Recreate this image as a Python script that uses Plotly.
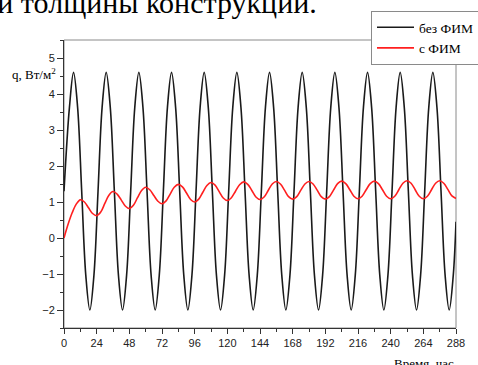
import plotly.graph_objects as go

# ---- data ----
black_name = "без ФИМ"
red_name = "с ФИМ"

black_t = [0] + list(range(4, 287, 3)) + [288]
black_q = [
    1.3,
    3.63, 4.6, 3.63, 1.3, -1.03, -2.0, -1.03, 1.3,
    3.63, 4.6, 3.63, 1.3, -1.03, -2.0, -1.03, 1.3,
    3.63, 4.6, 3.63, 1.3, -1.03, -2.0, -1.03, 1.3,
    3.63, 4.6, 3.63, 1.3, -1.03, -2.0, -1.03, 1.3,
    3.63, 4.6, 3.63, 1.3, -1.03, -2.0, -1.03, 1.3,
    3.63, 4.6, 3.63, 1.3, -1.03, -2.0, -1.03, 1.3,
    3.63, 4.6, 3.63, 1.3, -1.03, -2.0, -1.03, 1.3,
    3.63, 4.6, 3.63, 1.3, -1.03, -2.0, -1.03, 1.3,
    3.63, 4.6, 3.63, 1.3, -1.03, -2.0, -1.03, 1.3,
    3.63, 4.6, 3.63, 1.3, -1.03, -2.0, -1.03, 1.3,
    3.63, 4.6, 3.63, 1.3, -1.03, -2.0, -1.03, 1.3,
    3.63, 4.6, 3.63, 1.3, -1.03, -2.0, -1.03,
    0.45,
]

red_t = list(range(0, 289, 3))
red_q = [
    0.00, 0.38, 0.70, 0.94, 1.06, 1.00, 0.84, 0.68,
    0.62, 0.72, 0.96, 1.19, 1.29, 1.22, 1.06, 0.89,
    0.82, 0.91, 1.12, 1.32, 1.41, 1.34, 1.18, 1.02,
    0.95, 1.03, 1.22, 1.41, 1.49, 1.42, 1.25, 1.07,
    1.00, 1.08, 1.27, 1.46, 1.54, 1.47, 1.29, 1.11,
    1.04, 1.12, 1.30, 1.48, 1.56, 1.49, 1.32, 1.14,
    1.07, 1.14, 1.32, 1.50, 1.57, 1.50, 1.33, 1.15,
    1.08, 1.15, 1.33, 1.50, 1.57, 1.50, 1.33, 1.15,
    1.08, 1.15, 1.33, 1.51, 1.58, 1.51, 1.34, 1.16,
    1.09, 1.16, 1.34, 1.51, 1.58, 1.51, 1.34, 1.16,
    1.09, 1.16, 1.34, 1.52, 1.59, 1.52, 1.34, 1.16,
    1.09, 1.16, 1.34, 1.52, 1.59, 1.52, 1.35, 1.17,
    1.10,
]

x_ticks = [0, 24, 48, 72, 96, 120, 144, 168, 192, 216, 240, 264, 288]
y_ticks = [-2, -1, 0, 1, 2, 3, 4, 5]

caption = "ей толщины конструкции."
y_title = "q, Вт/м<sup>2</sup>"
x_title = "Время, час"

SERIF = '"Liberation Serif", "Times New Roman", serif'
SANS = '"Liberation Sans", Arial, sans-serif'

fig = go.Figure()
fig.add_trace(go.Scatter(x=black_t, y=black_q, mode="lines", name=black_name,
                         line=dict(color="#1a1a1a", width=1.6, shape="spline", smoothing=1.0)))
fig.add_trace(go.Scatter(x=red_t, y=red_q, mode="lines", name=red_name,
                         line=dict(color="#ff1f1f", width=1.6, shape="spline", smoothing=1.0)))

axis_common = dict(showgrid=False, zeroline=False, showline=True, linecolor="#333333",
                   linewidth=1, ticks="outside", tickcolor="#333333",
                   tickfont=dict(family=SANS, size=11, color="#222222"))

fig.update_xaxes(range=[0, 288], tickvals=x_ticks, ticklen=5,
                 minor=dict(dtick=12, tick0=0, ticks="outside", ticklen=3, tickcolor="#333333"),
                 **axis_common)
fig.update_yaxes(range=[-2.5, 5.5], tickvals=y_ticks, ticklen=6,
                 minor=dict(dtick=0.5, tick0=0, ticks="outside", ticklen=3, tickcolor="#333333"),
                 **axis_common)

# frame (top/right)
fig.add_shape(type="rect", xref="paper", yref="paper", x0=0, y0=0, x1=1, y1=1,
              line=dict(color="#8a8a8a", width=1), layer="below")

fig.add_annotation(text=caption, xref="paper", yref="paper", x=(319 - 64) / 392, y=(328 - 2) / 288,
                   xanchor="right", yanchor="middle", showarrow=False,
                   font=dict(family=SERIF, size=30, color="#000000"))
fig.add_annotation(text=y_title, xref="paper", yref="paper", x=(58 - 64) / 392, y=(328 - 74) / 288,
                   xanchor="right", yanchor="middle", showarrow=False,
                   font=dict(family=SERIF, size=13, color="#000000"))
fig.add_annotation(text=x_title, xref="paper", yref="paper", x=1.0, y=(328 - 363) / 288,
                   xanchor="right", yanchor="middle", showarrow=False,
                   font=dict(family=SERIF, size=13, color="#000000"))

fig.update_layout(
    width=478, height=365,
    margin=dict(l=64, r=22, t=40, b=37, autoexpand=False),
    paper_bgcolor="white", plot_bgcolor="white",
    showlegend=True,
    legend=dict(x=(371 - 64) / 392, y=(328 - 11) / 288, xanchor="left", yanchor="top",
                bgcolor="white", bordercolor="#8a8a8a", borderwidth=1,
                font=dict(family=SERIF, size=13.5, color="#000000"),
                itemwidth=37, tracegroupgap=0),
)

fig.write_html("out.html", config={"displayModeBar": False},
               post_script="document.body.style.margin='0';document.body.style.overflow='hidden';")
